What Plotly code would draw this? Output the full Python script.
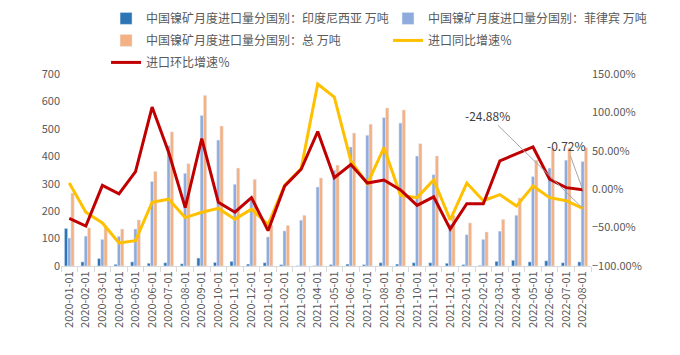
import plotly.graph_objects as go

dates = ["2020-01-01", "2020-02-01", "2020-03-01", "2020-04-01", "2020-05-01", "2020-06-01",
         "2020-07-01", "2020-08-01", "2020-09-01", "2020-10-01", "2020-11-01", "2020-12-01",
         "2021-01-01", "2021-02-01", "2021-03-01", "2021-04-01", "2021-05-01", "2021-06-01",
         "2021-07-01", "2021-08-01", "2021-09-01", "2021-10-01", "2021-11-01", "2021-12-01",
         "2022-01-01", "2022-02-01", "2022-03-01", "2022-04-01", "2022-05-01", "2022-06-01",
         "2022-07-01", "2022-08-01"]

indonesia = [137, 15, 27, 6, 15, 10, 12, 8, 29, 13, 17, 7, 12, 5, 1, 1,
             5, 7, 5, 12, 7, 12, 12, 10, 5, 2, 17, 21, 15, 19, 12, 15]
philippines = [102, 109, 97, 108, 135, 308, 439, 338, 549, 459, 298, 240, 106, 128, 167, 288,
               349, 434, 477, 541, 521, 401, 333, 152, 114, 97, 127, 185, 326, 357, 386, 381]
total = [266, 139, 144, 135, 168, 345, 489, 373, 622, 510, 357, 316, 150, 148, 185, 321,
         368, 485, 517, 576, 569, 446, 401, 185, 157, 124, 170, 248, 386, 430, 430, 432]
yoy = [8, -30, -44, -70, -67, -17, -13, -37, -30, -25, -39, -26, -46, 5, 27, 137,
       120, 37, 7, 54, -8, -11, 12, -40, 8, -15, -7, -22, 4, -11, -15, -24.88]
mom = [-38, -48, 5, -6, 23, 107, 48, -24, 66, -17, -30, -11, -54, 4, 26, 75,
       15, 32, 8, 12, -1, -21, -10, -52, -19, -19, 37, 46, 55, 13, 2, -0.72]

names = ["中国镍矿月度进口量分国别：印度尼西亚 万吨",
         "中国镍矿月度进口量分国别：菲律宾 万吨",
         "中国镍矿月度进口量分国别：总 万吨",
         "进口同比增速％",
         "进口环比增速％"]

FONT = "Noto Sans CJK SC"
GRAY = "#595959"

fig = go.Figure()
fig.add_trace(go.Bar(x=dates, y=indonesia, name=names[0], marker_color="#2E75B6",
                     legend="legend", legendgroup="a"))
fig.add_trace(go.Bar(x=dates, y=philippines, name=names[1], marker_color="#8FAADC",
                     legend="legend2", legendgroup="b"))
fig.add_trace(go.Bar(x=dates, y=total, name=names[2], marker_color="#F4B183",
                     legend="legend", legendgroup="c"))
fig.add_trace(go.Scatter(x=dates, y=yoy, name=names[3], mode="lines", yaxis="y2",
                         line=dict(color="#FFC000", width=3),
                         legend="legend2", legendgroup="d"))
fig.add_trace(go.Scatter(x=dates, y=mom, name=names[4], mode="lines", yaxis="y2",
                         line=dict(color="#C00000", width=3),
                         legend="legend", legendgroup="e"))

legend_common = dict(orientation="v", yanchor="top", xanchor="left", y=1.365,
                     font=dict(family=FONT, size=12, color=GRAY),
                     bgcolor="rgba(0,0,0,0)", tracegroupgap=3, itemwidth=30)

fig.update_layout(
    width=680, height=355,
    margin=dict(l=61, r=89, t=74, b=89, autoexpand=False),
    paper_bgcolor="white", plot_bgcolor="white",
    font=dict(family=FONT, size=11, color=GRAY),
    barmode="group", bargap=0.41, bargroupgap=0,
    legend=dict(x=0.085, **legend_common),
    legend2=dict(x=0.617, **legend_common),
    xaxis=dict(type="category", tickangle=-90, tickson="boundaries", ticks="outside",
               ticklen=5, tickcolor="#d9d9d9", showline=True, linecolor="#d9d9d9",
               showgrid=False, tickfont=dict(size=11, color=GRAY)),
    yaxis=dict(range=[0, 700], dtick=100, showgrid=False, zeroline=False,
               tickfont=dict(size=11, color=GRAY)),
    yaxis2=dict(range=[-100, 150], dtick=50, overlaying="y", side="right",
                showgrid=False, zeroline=False, tickformat=".2f", ticksuffix="%",
                tickfont=dict(size=11, color=GRAY)),
    annotations=[
        dict(x=dates[-1], y=yoy[-1], xref="x", yref="y2", text="-24.88%",
             showarrow=True, arrowhead=0, arrowwidth=1, arrowcolor="#a6a6a6",
             ax=-95, ay=-93, font=dict(family=FONT, size=12, color="#404040")),
        dict(x=dates[-1], y=mom[-1], xref="x", yref="y2", text="-0.72%",
             showarrow=True, arrowhead=0, arrowwidth=1, arrowcolor="#a6a6a6",
             ax=-16, ay=-44, font=dict(family=FONT, size=12, color="#404040")),
    ],
)

fig.write_html("out.html", config={"displayModeBar": False},
               post_script="document.body.style.margin='0';")
